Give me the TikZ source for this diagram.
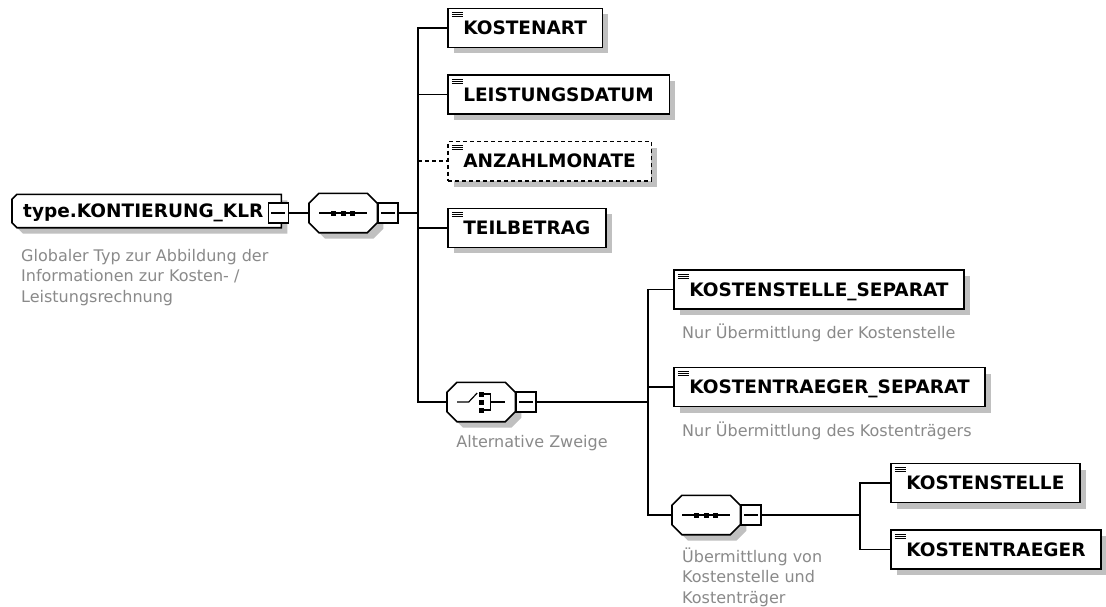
\documentclass[tikz,border=0pt]{standalone}
\usepackage{fontspec}
\setmainfont{DejaVu Sans}
\usetikzlibrary{positioning,shadows,backgrounds}
\definecolor{shade}{HTML}{C0C0C0}
\definecolor{note}{HTML}{8A8A8A}
\tikzset{
  shadowed/.style={drop shadow={shadow xshift=6pt, shadow yshift=-6pt, fill=shade, opacity=1}},
  element/.style={rectangle, draw=black, line width=1.6pt, fill=white, shadowed,
                  minimum height=39pt, inner xsep=15.5pt, inner ysep=0pt,
                  text height=13.5pt, text depth=0pt,
                  font=\fontsize{18.5}{20}\selectfont\bfseries,
                  path picture={\foreach \k in {4,6,8}
                    \draw[solid, line width=1pt, black]
                      ([xshift=4pt, yshift=-\k pt]path picture bounding box.north west) -- ++(11pt,0pt);}},
  optional/.style={element, dash pattern=on 4pt off 3pt},
  roottype/.style={rectangle, minimum width=269pt, minimum height=33pt, inner sep=0pt,
                   text width=247pt, align=left, text height=13.5pt, text depth=0pt,
                   font=\fontsize{18.5}{20}\selectfont\bfseries},
  compositor/.style={rectangle, minimum width=68pt, minimum height=39pt, inner sep=0pt},
  outline/.style={draw=black, line width=1.6pt, fill=white, shadowed},
  sequence/.style={compositor, path picture={
      \begin{scope}[shift={(path picture bounding box.center)}]
        \draw[line width=1.2pt, black] (-24pt,0pt) -- (24pt,0pt);
        \foreach \d in {-9.5,0,9.5}
          \fill[black] (\d pt-2.5pt,-2.5pt) rectangle ++(5pt,5pt);
      \end{scope}}},
  choice/.style={compositor, path picture={
      \begin{scope}[shift={(path picture bounding box.center)}, line width=1.2pt, black]
        \draw (-24pt,0pt) -- (-12.5pt,0pt) -- (-4pt,9pt);
        \foreach \d in {-8,0,8}
          \fill[black] (-2.5pt,\d pt-2.5pt) rectangle ++(5pt,5pt);
        \draw (2.5pt,8pt) -- (9pt,8pt) -- (9pt,-8pt) -- (2.5pt,-8pt) (9pt,0pt) -- (24pt,0pt);
      \end{scope}}},
  collapse/.style={rectangle, draw=black, line width=1.4pt, fill=white, minimum size=20pt,
                   inner sep=0pt,
                   path picture={\draw[line width=1.2pt, black]
                     ([xshift=-7pt]path picture bounding box.center) -- ++(14pt,0pt);}},
  note/.style={font=\fontsize{16}{20.5}\selectfont, text=note, align=left, inner sep=0pt},
  link/.style={line width=1.6pt, draw=black},
  optlink/.style={link, dash pattern=on 4pt off 3pt}
}
% #1 node, #2 left cut, #3 right cut
\newcommand\chamferbox[3]{%
  \path[outline] ([xshift=#2]#1.north west) -- ([xshift=-#3]#1.north east)
    -- ([yshift=-#3]#1.north east) -- ([yshift=#3]#1.south east)
    -- ([xshift=-#3]#1.south east) -- ([xshift=#2]#1.south west)
    -- ([yshift=#2]#1.south west) -- ([yshift=-#2]#1.north west) -- cycle;}
\begin{document}
\begin{tikzpicture}[x=1pt, y=-1pt]
\useasboundingbox (0,0) rectangle (1106,607);

\node[roottype, anchor=west] (root) at (12,211) {type.KONTIERUNG\_KLR};
\node[collapse] (rootm) at ([xshift=-3pt, yshift=-2pt]root.east) {};
\node[note, anchor=north west] (rootnote) at (21,249)
  {Globaler Typ zur Abbildung der\\Informationen zur Kosten- /\\Leistungsrechnung};

\node[sequence, anchor=west] (seq1) at (309,213) {};
\node[collapse, right=0pt of seq1] (seq1m) {};
\coordinate (bus1) at (418,213);

\node[element, anchor=west] (kostenart) at (447,28) {KOSTENART};
\node[element, below=26pt of kostenart.south west, anchor=north west] (leistungsdatum) {LEISTUNGSDATUM};
\node[optional, below=26pt of leistungsdatum.south west, anchor=north west] (anzahlmonate) {ANZAHLMONATE};
\node[element, below=26pt of anzahlmonate.south west, anchor=north west] (teilbetrag) {TEILBETRAG};

\node[choice, anchor=west] (choice) at (447,402) {};
\node[collapse, right=0pt of choice] (choicem) {};
\node[note, anchor=base west] (choicenote) at ([xshift=-25pt, yshift=-25.5pt]choice.south) {Alternative Zweige};
\coordinate (bus2) at (648,402);

\node[element, anchor=west] (kss) at (673,289.5) {KOSTENSTELLE\_SEPARAT};
\node[note, anchor=base west] (kssnote) at ([xshift=9pt, yshift=-29pt]kss.south west) {Nur Übermittlung der Kostenstelle};
\node[element, below=57pt of kss.south west, anchor=north west] (kts) {KOSTENTRAEGER\_SEPARAT};
\node[note, anchor=base west] (ktsnote) at ([xshift=9pt, yshift=-29pt]kts.south west) {Nur Übermittlung des Kostenträgers};

\node[sequence, anchor=west] (seq2) at (672,515) {};
\node[collapse, right=0pt of seq2] (seq2m) {};
\node[note, anchor=north west] (seq2note) at (682,547.5)
  {Übermittlung von\\Kostenstelle und\\Kostenträger};
\coordinate (bus3) at (860,515);

\node[element, anchor=west] (kostenstelle) at (890,483) {KOSTENSTELLE};
\node[element, below=26pt of kostenstelle.south west, anchor=north west] (kostentraeger) {KOSTENTRAEGER};

\draw[link] (rootm.east) -- (rootm.east -| seq1.west);
\draw[link] (seq1m) -- (bus1);
\foreach \n in {kostenart, leistungsdatum, teilbetrag, choice}
  \draw[link] (bus1) |- (\n);
\draw[optlink] (bus1 |- anzahlmonate.west) -- (anzahlmonate);
\draw[link] (choicem) -- (bus2);
\foreach \n in {kss, kts, seq2}
  \draw[link] (bus2) |- (\n);
\draw[link] (seq2m) -- (bus3);
\foreach \n in {kostenstelle, kostentraeger}
  \draw[link] (bus3) |- (\n);

\begin{scope}[on background layer]
  \fill[white] (0,0) rectangle (1106,607);
  \chamferbox{root}{5pt}{0pt}
  \foreach \n in {seq1, choice, seq2} {\chamferbox{\n}{10pt}{10pt}}
\end{scope}
\end{tikzpicture}
\end{document}
